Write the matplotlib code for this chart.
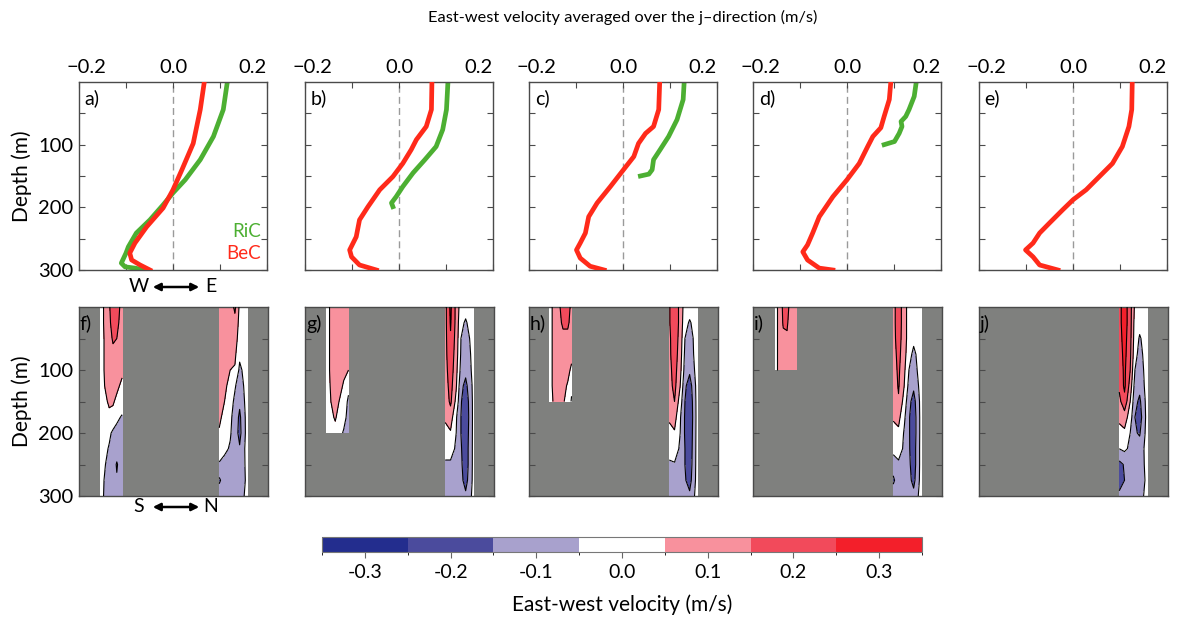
import numpy as np
import matplotlib.pyplot as plt
from matplotlib.colors import ListedColormap, BoundaryNorm
from matplotlib.cm import ScalarMappable
from matplotlib.patches import FancyArrowPatch
from matplotlib.transforms import ScaledTranslation

plt.rcParams['font.family'] = ['Lato', 'DejaVu Sans']

# ---- top row: east-west velocity profiles (m/s) vs depth (m)
bec_a_depth = [3, 44, 98, 140, 172, 201, 231, 257, 273, 284, 292, 300]
bec_a = [0.066, 0.058, 0.043, 0.019, 0.0, -0.021, -0.056, -0.081, -0.092, -0.088, -0.070, -0.049]
ric_a_depth = [3, 44, 87, 124, 156, 177, 196, 220, 241, 263, 273, 289, 295, 297, 300]
ric_a = [0.115, 0.107, 0.086, 0.058, 0.026, 0.0, -0.021, -0.049, -0.078, -0.095, -0.100, -0.110, -0.102, -0.081, -0.060]

bec_b_depth = [2, 44, 71, 92, 108, 130, 151, 172, 199, 220, 247, 268, 279, 292, 300]
bec_b = [0.070, 0.069, 0.058, 0.037, 0.026, 0.008, -0.013, -0.041, -0.066, -0.084, -0.091, -0.105, -0.101, -0.084, -0.048]
ric_b_depth = [2, 44, 76, 103, 124, 145, 167, 183, 193, 199]
ric_b = [0.104, 0.101, 0.093, 0.079, 0.055, 0.030, 0.008, -0.006, -0.016, -0.013]

bec_c_depth = [2, 44, 71, 82, 98, 119, 140, 167, 193, 215, 241, 257, 268, 281, 294, 300]
bec_c = [0.078, 0.076, 0.065, 0.048, 0.033, 0.023, 0.001, -0.027, -0.055, -0.073, -0.080, -0.091, -0.099, -0.091, -0.070, -0.040]
ric_c_depth = [2, 28, 60, 87, 108, 124, 140, 147, 150]
ric_c = [0.130, 0.128, 0.115, 0.097, 0.079, 0.065, 0.062, 0.055, 0.037]

bec_d_depth = [2, 28, 55, 73, 87, 103, 130, 156, 183, 215, 241, 260, 271, 284, 297, 300]
bec_d = [0.093, 0.090, 0.079, 0.072, 0.055, 0.044, 0.026, 0.0, -0.030, -0.059, -0.073, -0.084, -0.094, -0.084, -0.059, -0.030]
ric_d_depth = [2, 23, 44, 55, 63, 71, 82, 95, 100]
ric_d = [0.147, 0.143, 0.132, 0.125, 0.115, 0.117, 0.111, 0.101, 0.079]

bec_e_depth = [2, 44, 71, 103, 130, 151, 172, 188, 204, 225, 241, 257, 268, 279, 292, 300]
bec_e = [0.126, 0.125, 0.119, 0.105, 0.084, 0.056, 0.028, 0.0, -0.022, -0.050, -0.071, -0.085, -0.101, -0.085, -0.071, -0.032]

# ---- bottom row: velocity sections in the two channels (S-N position, depth)
rows_300 = [0, 25, 50, 75, 100, 125, 150, 175, 200, 225, 250, 275, 300]
rows_200 = [0, 25, 50, 75, 100, 125, 150, 175, 200]
rows_150 = [0, 25, 50, 75, 100, 125, 150]
rows_100 = [0, 25, 50, 75, 100]
right_cols = [74.2, 77, 80, 82.5, 85, 89.2]

f_left_cols = [11.3, 14.0, 16.0, 18.0, 20.0, 22.8]
f_left = [[0, 0.08, 0.14, 0.20, 0.20, 0.11],
          [0, 0.08, 0.13, 0.19, 0.18, 0.10],
          [0, 0.07, 0.12, 0.16, 0.15, 0.10],
          [0, 0.07, 0.11, 0.13, 0.12, 0.09],
          [0, 0.07, 0.10, 0.11, 0.10, 0.07],
          [0, 0.06, 0.09, 0.09, 0.07, 0.03],
          [0, 0.03, 0.07, 0.06, 0.03, 0.0],
          [0, 0.0, 0.02, 0.02, -0.03, -0.06],
          [0, -0.01, -0.03, -0.07, -0.08, -0.08],
          [0, -0.03, -0.06, -0.08, -0.10, -0.09],
          [0, -0.05, -0.08, -0.10, -0.16, -0.09],
          [0, -0.07, -0.09, -0.10, -0.14, -0.10],
          [0, -0.08, -0.12, -0.09, -0.10, -0.09]]
f_right = [[0.12, 0.11, 0.10, 0.17, 0.03, 0.0],
           [0.12, 0.11, 0.09, 0.12, 0.02, 0.0],
           [0.11, 0.10, 0.08, 0.10, 0.0, 0.0],
           [0.11, 0.09, 0.07, 0.07, -0.03, 0.0],
           [0.10, 0.08, 0.05, 0.04, -0.07, 0.0],
           [0.09, 0.07, 0.02, -0.04, -0.10, 0.0],
           [0.08, 0.05, -0.01, -0.07, -0.13, 0.0],
           [0.07, 0.02, -0.03, -0.09, -0.17, 0.0],
           [0.04, 0.0, -0.04, -0.10, -0.18, 0.0],
           [0.0, -0.03, -0.06, -0.10, -0.14, 0.0],
           [-0.06, -0.08, -0.09, -0.10, -0.11, -0.02],
           [-0.17, -0.09, -0.09, -0.10, -0.10, -0.03],
           [-0.08, -0.08, -0.09, -0.09, -0.09, -0.02]]

g_left_cols = [11.2, 13.7, 16.0, 18.0, 20.5, 23.0]
g_left = [[0, 0.07, 0.10, 0.10, 0.10, 0.10],
          [0, 0.07, 0.10, 0.10, 0.10, 0.10],
          [0, 0.07, 0.10, 0.10, 0.10, 0.09],
          [0, 0.07, 0.10, 0.10, 0.09, 0.08],
          [0, 0.07, 0.09, 0.09, 0.07, 0.05],
          [0, 0.06, 0.09, 0.08, 0.04, -0.02],
          [0, 0.05, 0.08, 0.05, 0.01, -0.07],
          [0, 0.03, 0.06, 0.02, -0.02, -0.08],
          [0, 0.01, 0.02, -0.02, -0.06, -0.07]]
g_right = [[0.12, 0.27, 0.12, 0.0, -0.02, 0.0],
           [0.12, 0.26, 0.12, -0.03, -0.06, 0.0],
           [0.12, 0.24, 0.11, -0.05, -0.09, -0.01],
           [0.12, 0.22, 0.10, -0.06, -0.10, -0.02],
           [0.11, 0.21, 0.08, -0.08, -0.12, -0.02],
           [0.10, 0.19, 0.06, -0.12, -0.18, -0.02],
           [0.09, 0.17, 0.02, -0.14, -0.22, -0.02],
           [0.06, 0.10, -0.04, -0.15, -0.23, -0.02],
           [0.03, 0.04, -0.05, -0.15, -0.22, -0.02],
           [0.0, 0.0, -0.07, -0.14, -0.21, -0.02],
           [-0.07, -0.07, -0.09, -0.13, -0.21, -0.02],
           [-0.09, -0.09, -0.10, -0.12, -0.19, -0.02],
           [-0.08, -0.09, -0.10, -0.10, -0.13, -0.02]]

h_left_cols = [11.0, 13.0, 15.5, 18.0, 20.5, 22.5]
h_left = [[0, 0.08, 0.12, 0.20, 0.20, 0.12],
          [0, 0.08, 0.11, 0.17, 0.17, 0.11],
          [0, 0.08, 0.10, 0.12, 0.12, 0.10],
          [0, 0.08, 0.10, 0.10, 0.10, 0.08],
          [0, 0.08, 0.09, 0.09, 0.08, 0.03],
          [0, 0.08, 0.09, 0.08, 0.04, -0.03],
          [0, 0.06, 0.07, 0.06, 0.02, -0.06]]
h_right = [[0.14, 0.22, 0.12, 0.0, -0.01, 0.0],
           [0.14, 0.22, 0.12, -0.02, -0.06, 0.0],
           [0.13, 0.21, 0.11, -0.05, -0.09, 0.0],
           [0.13, 0.20, 0.10, -0.07, -0.10, 0.0],
           [0.12, 0.19, 0.08, -0.09, -0.13, 0.0],
           [0.11, 0.18, 0.05, -0.13, -0.20, 0.0],
           [0.09, 0.15, 0.0, -0.15, -0.23, 0.0],
           [0.06, 0.09, -0.04, -0.16, -0.24, 0.0],
           [0.03, 0.04, -0.05, -0.16, -0.23, 0.0],
           [0.0, 0.01, -0.07, -0.15, -0.22, 0.0],
           [-0.07, -0.06, -0.09, -0.15, -0.21, 0.0],
           [-0.09, -0.09, -0.10, -0.14, -0.19, 0.0],
           [-0.09, -0.09, -0.10, -0.11, -0.13, 0.0]]

i_left_cols = [11.5, 13.5, 16.0, 18.0, 20.5, 22.9]
i_left = [[0, 0.07, 0.17, 0.18, 0.10, 0.09],
          [0, 0.07, 0.16, 0.16, 0.10, 0.09],
          [0, 0.07, 0.13, 0.14, 0.10, 0.09],
          [0, 0.07, 0.10, 0.12, 0.10, 0.09],
          [0, 0.07, 0.09, 0.10, 0.09, 0.08]]
i_right = [[0.12, 0.20, 0.10, 0.0, 0.0, 0.0],
           [0.12, 0.20, 0.10, 0.0, 0.0, 0.0],
           [0.12, 0.19, 0.10, 0.0, -0.03, 0.0],
           [0.11, 0.18, 0.09, -0.02, -0.07, 0.0],
           [0.10, 0.17, 0.07, -0.05, -0.09, 0.0],
           [0.09, 0.16, 0.05, -0.08, -0.13, 0.0],
           [0.08, 0.14, 0.01, -0.12, -0.19, 0.0],
           [0.06, 0.08, -0.03, -0.14, -0.21, 0.0],
           [0.02, 0.03, -0.06, -0.14, -0.21, 0.0],
           [-0.02, 0.0, -0.07, -0.14, -0.20, 0.0],
           [-0.10, -0.07, -0.09, -0.13, -0.20, 0.0],
           [-0.17, -0.09, -0.10, -0.12, -0.18, 0.0],
           [-0.09, -0.09, -0.10, -0.10, -0.12, 0.0]]

j_right = [[0.22, 0.30, 0.19, 0.03, 0.0, 0.0],
           [0.22, 0.30, 0.19, 0.01, -0.02, 0.0],
           [0.21, 0.29, 0.18, 0.0, -0.06, 0.0],
           [0.20, 0.28, 0.17, -0.02, -0.08, 0.0],
           [0.19, 0.27, 0.15, -0.05, -0.10, 0.0],
           [0.17, 0.27, 0.11, -0.09, -0.12, 0.0],
           [0.12, 0.22, 0.05, -0.12, -0.17, 0.0],
           [0.07, 0.10, 0.0, -0.15, -0.20, 0.0],
           [0.02, 0.03, -0.05, -0.14, -0.16, 0.0],
           [-0.05, -0.03, -0.07, -0.10, -0.11, 0.0],
           [-0.18, -0.14, -0.09, -0.10, -0.12, 0.0],
           [-0.19, -0.15, -0.09, -0.10, -0.15, 0.0],
           [-0.13, -0.10, -0.09, -0.09, -0.10, 0.0]]

bounds = [-0.35, -0.25, -0.15, -0.05, 0.05, 0.15, 0.25, 0.35]
cbar_ticks = [-0.3, -0.2, -0.1, 0.0, 0.1, 0.2, 0.3]
vel_colors = ['#232d8e', '#4b4b9d', '#a8a1cd', '#ffffff', '#f8919d', '#f24a5b', '#f31f2a']

RED = '#ff2a1a'
GREEN = '#4caf32'
LAND = '#7f807e'
SPINE = '#4a4a4a'

W, H = 1177, 619
fig = plt.figure(figsize=(W / 100, H / 100), dpi=100)


def add_ax(left, top, w, h):
    return fig.add_axes([left / W, 1 - (top + h) / H, w / W, h / H])


def depth_axis(ax, first):
    ax.set_ylim(300, 0)
    ax.set_yticks([50, 100, 150, 200, 250, 300])
    ax.set_yticklabels(['', '100', '', '200', '', '300'] if first else [''] * 6)
    for s in ax.spines.values():
        s.set_color(SPINE)
        s.set_linewidth(1.0)


lefts = [79, 305, 529, 753, 979]
letters_top = ['a)', 'b)', 'c)', 'd)', 'e)']
letters_bot = ['f)', 'g)', 'h)', 'i)', 'j)']
profiles = [(bec_a_depth, bec_a, ric_a_depth, ric_a),
            (bec_b_depth, bec_b, ric_b_depth, ric_b),
            (bec_c_depth, bec_c, ric_c_depth, ric_c),
            (bec_d_depth, bec_d, ric_d_depth, ric_d),
            (bec_e_depth, bec_e, None, None)]
sections = [[(f_left_cols, rows_300, f_left), (right_cols, rows_300, f_right)],
            [(g_left_cols, rows_200, g_left), (right_cols, rows_300, g_right)],
            [(h_left_cols, rows_150, h_left), (right_cols, rows_300, h_right)],
            [(i_left_cols, rows_100, i_left), (right_cols, rows_300, i_right)],
            [(right_cols, rows_300, j_right)]]

fill_levels = [-1.0] + bounds[1:-1] + [1.0]
line_levels = bounds[1:-1]
TICK_FS = 14.5

for k in range(5):
    # profiles
    ax = add_ax(lefts[k], 82, 188, 188)
    bd, bv, rd, rv = profiles[k]
    ax.axvline(0, color='#9a9a9a', lw=1.0, ls=(0, (5, 3)), zorder=1)
    if rd is not None:
        ax.plot(rv, rd, color=GREEN, lw=3.4, zorder=2)
    ax.plot(bv, bd, color=RED, lw=3.4, zorder=3)
    ax.set_xlim(-0.2, 0.2)
    ax.set_xticks([-0.2, -0.1, 0.0, 0.1, 0.2])
    ax.set_xticklabels(['\u22120.2', '', '0.0', '', '0.2'])
    depth_axis(ax, k == 0)
    ax.tick_params(direction='in', length=4, width=0.8, color=SPINE, top=True, bottom=True,
                   left=True, right=True, labeltop=True, labelbottom=False, labelsize=TICK_FS, pad=4)
    xt = ax.xaxis.get_major_ticks()
    lab = xt[0].label2
    lab.set_transform(lab.get_transform() + ScaledTranslation(0.07, 0, fig.dpi_scale_trans))
    xt[4].label2.set_horizontalalignment('right')
    ax.text(0.03, 0.96, letters_top[k], transform=ax.transAxes, ha='left', va='top', fontsize=14)
    if k == 0:
        ax.text(0.97, 0.205, 'RiC', color=GREEN, transform=ax.transAxes, ha='right', va='center', fontsize=13.5)
        ax.text(0.97, 0.09, 'BeC', color=RED, transform=ax.transAxes, ha='right', va='center', fontsize=13.5)

    # sections
    ax = add_ax(lefts[k], 307, 189, 189)
    ax.set_facecolor(LAND)
    for cols, rows, vals in sections[k]:
        ax.contourf(cols, rows, np.array(vals), levels=fill_levels, colors=vel_colors, zorder=2)
        ax.contour(cols, rows, np.array(vals), levels=line_levels, colors='k', linewidths=0.8,
                   linestyles='solid', zorder=3)
    ax.set_xlim(0, 100)
    ax.set_xticks([])
    depth_axis(ax, k == 0)
    ax.tick_params(axis='y', direction='in', length=4, width=0.8, color=SPINE, left=True, right=True,
                   labelsize=TICK_FS, pad=4)
    ax.text(0.005, 0.96, letters_bot[k], transform=ax.transAxes, ha='left', va='top', fontsize=14)

# labels
fig.text(623 / W, 1 - 17 / H, 'East-west velocity averaged over the j\u2013direction (m/s)',
         ha='center', va='center', fontsize=11.8)
fig.text(22 / W, 1 - 176 / H, 'Depth (m)', rotation=90, ha='center', va='center', fontsize=15)
fig.text(22 / W, 1 - 401 / H, 'Depth (m)', rotation=90, ha='center', va='center', fontsize=15)

# direction arrows
for y, a, b in [(287, 'W', 'E'), (507, 'S', 'N')]:
    fig.text(139 / W, 1 - y / H, a, ha='center', va='center', fontsize=14)
    fig.text(211 / W, 1 - y / H, b, ha='center', va='center', fontsize=14)
    fig.add_artist(FancyArrowPatch((150 / W, 1 - y / H), (202 / W, 1 - y / H), transform=fig.transFigure,
                                   arrowstyle='<|-|>', mutation_scale=11, lw=1.8, color='k'))

# colorbar
cax = add_ax(322, 537, 600, 15)
sm = ScalarMappable(norm=BoundaryNorm(bounds, 7), cmap=ListedColormap(vel_colors))
cb = fig.colorbar(sm, cax=cax, orientation='horizontal', ticks=cbar_ticks)
cb.ax.set_xticklabels(['%.1f' % t for t in cbar_ticks])
cb.ax.tick_params(direction='out', length=4, width=0.8, color='#666666', labelsize=14, pad=5)
cb.outline.set_edgecolor('#777777')
cb.outline.set_linewidth(0.8)
cb.set_label('East-west velocity (m/s)', fontsize=15, labelpad=9)

fig.savefig('out.png', dpi=100)
